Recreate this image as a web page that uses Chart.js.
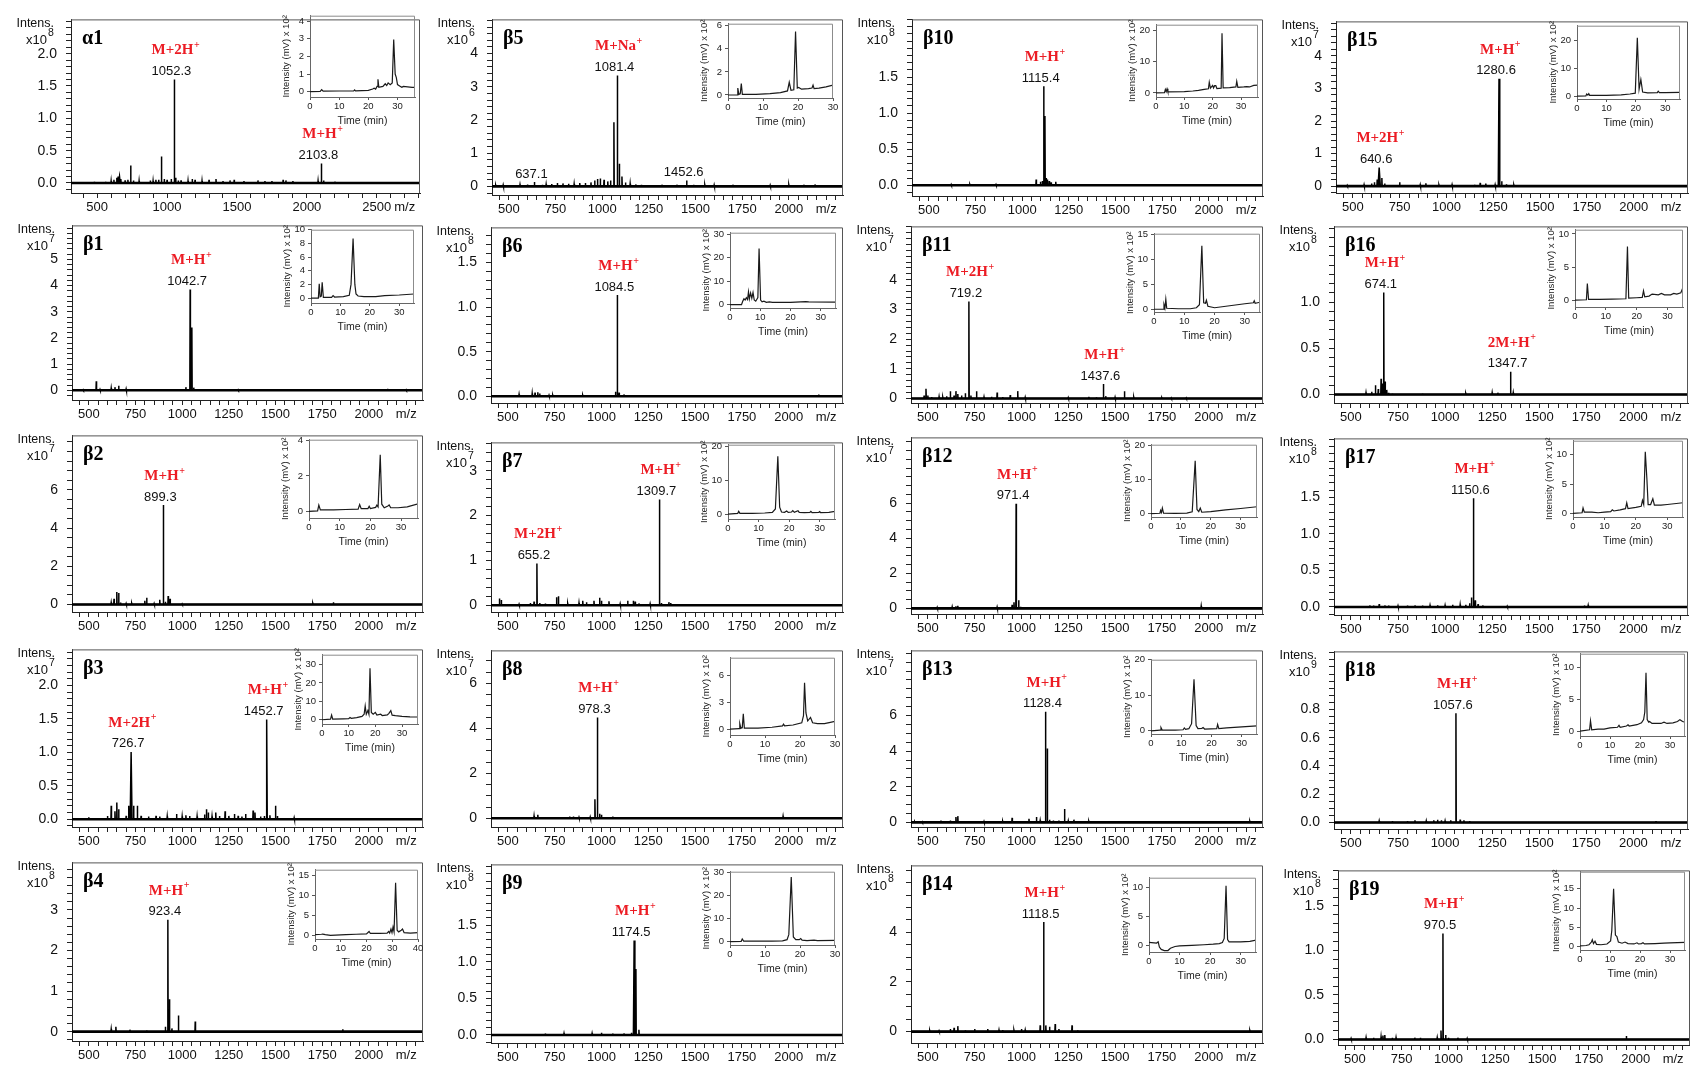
<!DOCTYPE html>
<html>
<head>
<meta charset="utf-8">
<script src="https://cdn.jsdelivr.net/npm/chart.js@4.4.1/dist/chart.umd.min.js"></script>
<style>
  html, body { margin: 0; padding: 0; background: #fff; }
  #fig { position: relative; width: 1690px; height: 1071px; overflow: hidden; background: #fff; }
  #fig canvas { position: absolute; }
</style>
</head>
<body>
<div id="fig"></div>
<script>
// ---------- MALDI spectra: [m/z, intensity (in units of the panel multiplier), half-width] ----------
const peaksA1 = [[480,0.02],[560,0.02],[600,0.03],[620,0.05],[640,0.08],[650,0.1],[660,0.1,5],[670,0.06],[700,0.04],[720,0.05],[740,0.27],[760,0.04],[800,0.03],[880,0.04],[900,0.03],[920,0.05],[940,0.05],[960,0.41],[980,0.06],[1000,0.05],[1030,0.06],[1052.3,1.6],[1062,0.08],[1080,0.04],[1100,0.04],[1150,0.03],[1180,0.06],[1200,0.05],[1250,0.03],[1300,0.05],[1350,0.06],[1400,0.03],[1450,0.04],[1480,0.05],[1550,0.03],[1650,0.04],[1700,0.03],[1750,0.03],[1830,0.05],[1850,0.04],[1900,0.03],[2080,0.03],[2103.8,0.3],[2120,0.04],[2200,0.02]];
const peaksB5 = [[430,0.03],[470,0.04],[520,0.03],[560,0.05],[600,0.06],[637.1,0.13],[680,0.05],[700,0.06],[730,0.07],[760,0.1],[790,0.09],[820,0.08],[850,0.07],[880,0.1],[910,0.1],[940,0.12],[960,0.18],[975,0.22],[990,0.24],[1010,0.2],[1030,0.15],[1045,0.18],[1063,1.93],[1081.4,3.34],[1092,0.68],[1106,0.3],[1125,0.12],[1150,0.08],[1180,0.06],[1210,0.05],[1260,0.04],[1320,0.05],[1360,0.04],[1400,0.05],[1452.6,0.18],[1490,0.05],[1550,0.04],[1600,0.04],[1700,0.05],[1800,0.04],[1900,0.03],[2000,0.04],[2080,0.05],[2140,0.06]];
const peaksB10 = [[620,0.01],[660,0.012],[720,0.01],[830,0.01],[860,0.01],[960,0.02],[1075,0.08],[1098,0.05],[1108,0.06],[1115.4,1.375],[1122,0.96],[1128,0.1],[1135,0.08],[1145,0.06],[1155,0.04],[1180,0.05],[2240,0.02]];
const peaksB15 = [[470,0.02],[520,0.02],[560,0.04],[600,0.08],[615,0.12],[630,0.2],[640.6,0.57,6],[655,0.25],[670,0.08],[690,0.03],[750,0.12],[830,0.02],[860,0.04],[890,0.09],[920,0.03],[960,0.03],[1000,0.03],[1030,0.04],[1150,0.04],[1180,0.1],[1210,0.08],[1260,0.04],[1280.6,3.3,4],[1295,0.15],[1320,0.06],[1360,0.03]];
const peaksB1 = [[470,0.02],[540,0.35],[560,0.03],[600,0.04],[620,0.08],[640,0.12],[660,0.17],[680,0.05],[700,0.05],[760,0.03],[840,0.05],[900,0.03],[980,0.03],[1020,0.12],[1042.7,3.85],[1052,2.4],[1062,0.1],[1120,0.03],[1200,0.02],[1300,0.02],[1500,0.02],[1800,0.02],[2100,0.06],[2200,0.02]];
const peaksB6 = [[560,0.02],[630,0.03],[645,0.04],[660,0.045],[670,0.03],[720,0.01],[740,0.01],[900,0.01],[930,0.01],[1075,0.05],[1084.5,1.136],[1094,0.04],[1120,0.02],[2160,0.02]];
const peaksB11 = [[480,0.1],[490,0.33],[500,0.1],[520,0.05],[560,0.06],[580,0.04],[600,0.08],[620,0.25],[640,0.1],[650,0.25],[660,0.15],[680,0.1],[700,0.18],[719.2,3.27],[730,0.1],[760,0.25],[800,0.05],[840,0.06],[870,0.2],[900,0.05],[940,0.12],[980,0.25],[1020,0.04],[1080,0.03],[1150,0.03],[1250,0.03],[1300,0.03],[1360,0.06],[1400,0.04],[1437.6,0.49],[1450,0.08],[1500,0.04],[1550,0.25],[1600,0.04],[1700,0.03],[1750,0.02],[1800,0.02],[1880,0.02]];
const peaksB16 = [[580,0.02],[610,0.03],[630,0.1],[645,0.06],[660,0.17],[667,0.12],[674.1,1.105],[681,0.14],[690,0.05],[700,0.02],[720,0.01],[880,0.01],[1110,0.01],[1250,0.02],[1280,0.02],[1347.7,0.245],[1362,0.02]];
const peaksB2 = [[620,0.1],[635,0.3],[650,0.65],[660,0.6],[670,0.1],[700,0.05],[730,0.05],[800,0.2],[810,0.35],[850,0.05],[880,0.25],[899.3,5.2],[910,0.15],[925,0.45],[935,0.3],[1000,0.03],[1700,0.05],[1810,0.12]];
const peaksB7 = [[455,0.15],[465,0.12],[560,0.02],[590,0.03],[620,0.05],[640,0.08],[655.2,0.93],[670,0.05],[700,0.04],[760,0.18],[770,0.2],[820,0.03],[880,0.05],[900,0.1],[920,0.07],[960,0.1],[990,0.17],[1000,0.1],[1040,0.09],[1100,0.03],[1140,0.1],[1170,0.1],[1180,0.08],[1200,0.04],[1260,0.03],[1309.7,2.36],[1320,0.05],[1360,0.07],[1370,0.05]];
const peaksB12 = [[550,0.05],[600,0.05],[630,0.08],[650,0.12],[660,0.15],[700,0.05],[750,0.05],[850,0.08],[870,0.07],[950,0.2],[960,0.35],[971.4,5.96],[985,0.46],[995,0.1],[1010,0.05],[1960,0.12]];
const peaksB17 = [[600,0.02],[620,0.02],[650,0.04],[680,0.02],[700,0.02],[750,0.015],[800,0.02],[840,0.02],[880,0.02],[920,0.02],[960,0.025],[1000,0.02],[1040,0.03],[1080,0.03],[1110,0.03],[1130,0.05],[1140,0.13],[1150.6,1.49],[1160,0.09],[1175,0.04],[1200,0.02],[1230,0.01],[1330,0.01],[1740,0.02],[1760,0.02]];
const peaksB3 = [[450,0.02],[500,0.03],[510,0.02],[600,0.05],[620,0.2],[640,0.12],[650,0.25],[660,0.15],[700,0.05],[714,0.2],[726.7,1.007,5],[740,0.2],[760,0.2],[780,0.05],[820,0.04],[860,0.05],[880,0.04],[920,0.04],[970,0.08],[1000,0.04],[1020,0.06],[1040,0.05],[1080,0.04],[1120,0.07],[1130,0.15],[1140,0.1],[1160,0.04],[1180,0.1],[1200,0.05],[1230,0.12],[1250,0.05],[1280,0.08],[1300,0.05],[1320,0.04],[1340,0.08],[1380,0.13],[1390,0.1],[1420,0.04],[1440,0.05],[1452.7,1.49,3],[1470,0.06],[1500,0.2],[1510,0.05],[1560,0.02],[1600,0.02]];
const peaksB8 = [[600,0.03],[620,0.05],[640,0.1],[660,0.15],[700,0.04],[750,0.03],[830,0.08],[850,0.08],[880,0.04],[940,0.05],[965,0.85],[978.3,4.48],[990,0.2],[1000,0.15],[1060,0.08],[1970,0.08]];
const peaksB13 = [[430,0.03],[470,0.03],[520,0.03],[570,0.1],[600,0.05],[620,0.1],[650,0.3],[660,0.35],[700,0.06],[760,0.05],[800,0.05],[850,0.04],[900,0.05],[950,0.25],[1000,0.05],[1040,0.2],[1080,0.3],[1100,0.1],[1128.4,6.21],[1138,4.15],[1150,0.15],[1170,0.1],[1200,0.1],[1230,0.75],[1250,0.08],[1280,0.15],[1300,0.05],[1360,0.05],[2220,0.05]];
const peaksB18 = [[650,0.01],[720,0.01],[800,0.01],[840,0.015],[900,0.01],[940,0.015],[960,0.02],[980,0.015],[1000,0.01],[1030,0.015],[1057.6,0.772],[1080,0.02],[1100,0.015],[1130,0.01],[2120,0.01]];
const peaksB4 = [[620,0.06],[645,0.12],[720,0.05],[810,0.03],[910,0.12],[923.4,2.76],[932,0.8],[945,0.08],[980,0.4],[1070,0.25],[1860,0.06]];
const peaksB9 = [[700,0.02],[800,0.02],[950,0.02],[1000,0.03],[1060,0.02],[1120,0.02],[1160,0.03],[1174.5,1.29,4],[1184,0.9],[1200,0.07]];
const peaksB14 = [[510,0.04],[560,0.03],[620,0.1],[640,0.15],[660,0.22],[700,0.05],[750,0.1],[820,0.1],[880,0.06],[900,0.06],[960,0.05],[1000,0.1],[1020,0.06],[1100,0.25],[1118.5,4.42],[1130,0.25],[1150,0.2],[1180,0.3],[1200,0.1],[1270,0.25],[1300,0.05],[2220,0.04]];
const peaksB19 = [[480,0.01],[560,0.02],[600,0.02],[640,0.03],[650,0.045],[660,0.05],[700,0.02],[720,0.02],[820,0.02],[850,0.02],[940,0.02],[960,0.1],[970.5,1.19],[985,0.05],[1000,0.02],[1050,0.02],[1100,0.01],[1950,0.04]];

// ---------- assigned ions: [m/z, ion species] (null = value only) ----------
const ionsA1 = [[1052.3,'M+2H'],[2103.8,'M+H']];
const ionsB5 = [[1081.4,'M+Na'],[637.1,null],[1452.6,null]];
const ionsB10 = [[1115.4,'M+H']];
const ionsB15 = [[1280.6,'M+H'],[640.6,'M+2H']];
const ionsB1 = [[1042.7,'M+H']];
const ionsB6 = [[1084.5,'M+H']];
const ionsB11 = [[719.2,'M+2H'],[1437.6,'M+H']];
const ionsB16 = [[674.1,'M+H'],[1347.7,'2M+H']];
const ionsB2 = [[899.3,'M+H']];
const ionsB7 = [[1309.7,'M+H'],[655.2,'M+2H']];
const ionsB12 = [[971.4,'M+H']];
const ionsB17 = [[1150.6,'M+H']];
const ionsB3 = [[726.7,'M+2H'],[1452.7,'M+H']];
const ionsB8 = [[978.3,'M+H']];
const ionsB13 = [[1128.4,'M+H']];
const ionsB18 = [[1057.6,'M+H']];
const ionsB4 = [[923.4,'M+H']];
const ionsB9 = [[1174.5,'M+H']];
const ionsB14 = [[1118.5,'M+H']];
const ionsB19 = [[970.5,'M+H']];

// ---------- HPLC chromatograms: [time (min), intensity (mV x 10^2)] ----------
const chromA1 = [[0,0],[3.5,0.02],[4,0.12],[4.5,0.03],[10,0.04],[15,0.05],[15.3,0.1],[15.6,0.05],[20,0.08],[21.5,0.15],[22,0.2],[22.5,0.15],[23,0.3],[23.3,0.7],[23.6,0.25],[25,0.3],[25.8,0.45],[26.3,0.35],[26.8,0.5],[27.5,0.4],[28.2,0.5],[28.7,2.95],[29.2,1.0],[29.6,0.8],[30,0.4],[31,0.3],[31.5,0.25],[32,0.3],[35,0.25],[36,0.25]];
const chromB5 = [[0,0],[2.6,0],[2.8,0.6],[3.1,0.05],[3.5,0.1],[3.8,1.0],[4.1,0.05],[8,0.05],[12,0.12],[15,0.2],[17,0.35],[17.5,1.1],[18,0.4],[18.8,0.45],[19.3,5.5],[19.8,0.6],[20.2,0.65],[21,0.5],[23,0.55],[24,0.6],[24.3,0.85],[24.6,0.55],[26,0.6],[28,0.7],[30,0.85]];
const chromB10 = [[0,0],[3,0.1],[3.3,1.1],[3.6,0.4],[3.9,1.3],[4.2,0.3],[10,0.4],[13,0.6],[15,0.8],[17,1.1],[18.5,1.3],[18.8,3.4],[19.2,1.5],[20,2.4],[20.3,1.6],[20.7,2.3],[21.1,2.3],[21.5,1.4],[23,1.5],[23.3,19],[23.7,1.6],[26,1.7],[28.2,1.9],[28.5,3.7],[28.9,1.8],[31,1.9],[32,2.0],[33,1.9],[34.5,2.4],[36,2.5]];
const chromB15 = [[0,0],[3,0.1],[3.3,0.8],[3.7,0.4],[4,0.9],[4.3,0.3],[10,0.3],[15,0.5],[18,0.8],[19.8,1.1],[20.5,21],[21.1,2.5],[21.7,6],[22.3,1.5],[24,1.2],[27.3,1.3],[27.6,1.8],[28,1.3],[30,1.3],[35,1.4]];
const chromB1 = [[0,0],[2.5,0],[2.8,2.1],[3.1,0.2],[3.5,0.3],[3.8,2.3],[4.2,0.1],[7,0.1],[7.5,0.35],[8,0.15],[11,0.2],[13,0.4],[13.6,2],[14.3,8.7],[14.9,2],[15.3,0.6],[16,0.3],[18,0.2],[22,0.2],[25,0.35],[30,0.45],[35,0.6]];
const chromB6 = [[0,0],[3.8,0],[4.2,1.5],[4.6,2.5],[5,2],[5.4,3],[5.8,2.2],[6.1,5.5],[6.4,2.5],[6.8,5],[7.2,2.8],[7.6,5.2],[8,2],[8.5,1.5],[9.2,3],[9.6,24],[10.1,2],[10.6,1.2],[11.2,1.5],[12,1],[13,1.2],[14,1],[20,1],[25,1.3],[26,1.2],[35,1.1]];
const chromB11 = [[0,0],[3,0],[3.3,0.9],[3.6,0.2],[3.9,2],[4.2,0.2],[8,0.1],[12,0.1],[14,0.3],[15,0.9],[15.8,12.7],[16.4,1.3],[17,1.2],[17.3,1.8],[17.8,0.6],[20,0.3],[25,0.7],[30,1.1],[32.8,1.3],[33.1,1.7],[33.4,1.2],[35,1.4]];
const chromB16 = [[0,0],[3.7,0.05],[4,2.5],[4.4,0.1],[8,0.1],[12,0.15],[16.5,0.2],[17,8.1],[17.4,0.3],[20,0.35],[21.8,0.4],[22.2,1.4],[22.6,0.5],[24,0.6],[25,0.9],[27,0.8],[28,1.0],[29,0.8],[31,0.8],[32,1.0],[33,0.9],[34.3,1.1],[35,1.9]];
const chromB2 = [[0,0],[2.8,0.02],[3.2,0.35],[3.7,0.08],[8,0.08],[12,0.1],[16,0.12],[16.5,0.38],[17,0.15],[19.2,0.15],[19.6,0.28],[20,0.15],[21.7,0.22],[22.1,0.35],[22.5,0.25],[23.2,3.2],[23.7,0.4],[24.5,0.2],[25.7,0.3],[26.1,0.36],[26.6,0.2],[29,0.2],[32,0.25],[35.5,0.42]];
const chromB7 = [[0,0],[3.2,0.2],[3.5,0.8],[3.9,0.2],[8,0.2],[12,0.3],[14.5,0.5],[15.5,1.5],[16.3,17],[16.9,2],[17.5,0.6],[18.5,0.5],[19.2,0.9],[19.7,0.5],[20.8,0.6],[21.2,1.0],[21.7,0.5],[22.9,1.0],[23.3,0.5],[25,0.4],[26.8,0.5],[27.1,0.8],[27.5,0.4],[29.7,0.5],[30,0.7],[30.3,0.4],[33,0.5],[35,0.8]];
const chromB12 = [[0,0],[3,0.1],[3.2,0.9],[3.5,0.3],[3.8,1.6],[4.2,0.1],[8,0.05],[12,0.15],[13.8,0.5],[14.8,15.5],[15.4,1.2],[16,0.6],[16.5,1.6],[17,0.4],[20,0.6],[25,1.1],[30,1.5],[35.5,2.0]];
const chromB17 = [[0,0],[2.9,0.1],[3.2,0.9],[3.6,0.2],[6,0.2],[8,0.1],[10,0.2],[12,0.3],[12.5,0.6],[13,0.4],[15,0.6],[16.7,0.8],[17.1,1.8],[17.5,0.8],[20,1.0],[21.7,1.2],[22.1,2.2],[22.5,1.5],[23,10.5],[23.5,6],[23.9,1.5],[24.7,1.5],[25.4,2.5],[25.9,1.4],[28,1.4],[30,1.5],[35,1.8]];
const chromB3 = [[0,0],[3.2,0.3],[3.6,2.5],[4,0.4],[8,0.5],[10,0.6],[10.5,1.2],[11,0.8],[13,1.2],[15,1.8],[15.8,3],[16.2,7.5],[16.6,3],[17.2,5],[17.6,3],[18,28],[18.5,4],[19.2,3],[20,4],[20.6,2.5],[22,3],[22.6,2.3],[24.5,2.6],[25.1,3.5],[25.8,5],[26.3,2.5],[27.5,2.2],[30,1.8],[33,1.6],[36,1.5]];
const chromB8 = [[0,0],[2.6,0.05],[2.8,0.6],[3.1,0.1],[3.5,0.15],[3.8,1.7],[4.1,0.1],[8,0.1],[12,0.2],[15,0.35],[15.3,0.55],[15.6,0.35],[18,0.45],[20.5,0.7],[21,1.5],[21.3,5.2],[21.7,1.8],[22.2,0.9],[23,1.3],[23.6,0.7],[25,0.6],[27,0.6],[30,0.85]];
const chromB13 = [[0,0],[3,0.2],[3.3,0.9],[3.7,0.2],[8,0.2],[10.6,0.3],[11,0.8],[11.4,0.4],[12.5,0.6],[13.4,2],[14.2,14.5],[14.9,1.5],[15.5,0.6],[16.8,0.7],[17.2,0.9],[17.7,0.5],[21.7,0.6],[22,1.8],[22.4,0.6],[25,0.8],[30,1.1],[35,1.4]];
const chromB18 = [[0,0],[3.2,0.2],[3.5,1.6],[3.9,0.2],[6,0.3],[8,0.3],[10,0.5],[12.5,0.6],[13,0.9],[13.4,0.6],[15.5,0.8],[16,1.0],[16.4,0.8],[19,1.0],[20.5,1.3],[21.2,1.8],[21.6,3],[22,9.2],[22.4,1.8],[22.9,1.4],[23.2,1.5],[24,1.2],[27,1.2],[28,1.4],[29,1.2],[31,1.3],[32.5,1.5],[33.3,1.8],[34.2,1.5],[35,1.4]];
const chromB4 = [[0,0.1],[2.5,0.2],[3,0.25],[4,0.1],[6,-0.1],[8,0],[12,0.1],[16,0.2],[20,0.3],[21,0.9],[21.5,0.4],[25,0.4],[28,0.5],[28.6,0.9],[29,0.5],[29.5,1.5],[29.9,0.6],[30.3,2],[30.7,0.8],[31.3,13.2],[31.9,1.2],[32.5,0.8],[33.5,1.2],[34,1.5],[34.6,0.6],[37,0.5],[40,0.6]];
const chromB9 = [[0,0],[3.2,0.1],[3.5,1.1],[3.9,0.2],[8,0.2],[12,0.2],[15,0.3],[16.3,0.8],[16.8,3],[17.5,28],[18.1,2],[18.8,0.8],[19.8,0.8],[20.2,1.3],[20.6,0.6],[22,0.4],[24,0.6],[25,0.4],[30,0.5]];
const chromB14 = [[0,0.5],[2.5,0.4],[3,0.6],[3.4,-0.3],[4,-0.7],[5,-0.9],[6.2,-0.9],[7,-0.5],[8.5,-0.2],[10,-0.1],[14,0],[18,0.1],[21,0.2],[23,0.3],[24,0.5],[24.6,1.2],[25.2,10.3],[25.7,1],[26.2,0.6],[30,0.6],[33,0.7],[35,0.9]];
const chromB19 = [[0,0.2],[2,0.3],[3,0.5],[3.8,1.2],[4.1,1.8],[4.5,0.8],[5,1.4],[5.5,0.6],[7,0.5],[9,0.7],[10.2,1.5],[10.6,4.2],[11.2,15],[11.8,3],[12.3,2.6],[12.8,1.2],[14,0.9],[15,1.2],[16,0.8],[18,0.7],[19,1.0],[19.5,0.7],[20.5,0.8],[21,1.0],[21.5,0.7],[25,0.8],[28,0.9],[30,1.0],[35,1.1]];

// ---------- axis tick labels ----------
const mzLabelsA = [500, 1000, 1500, 2000, 2500];
const mzLabelsB = [500, 750, 1000, 1250, 1500, 1750, 2000];
const timeLabels30 = [0, 10, 20, 30];
const timeLabels40 = [0, 10, 20, 30, 40];

// ---------- panel table (row by row) ----------
const BX = [410, 2290];
const PANELS = [
  {name:'α1', exp:8, x:[313,2809], xStep:100, xLabels:mzLabelsA, mzAt:2700, y:[-0.155,2.53], yStep:0.1, yLabels:[0,0.5,1,1.5,2], dec:1, peaks:peaksA1, ions:ionsA1, chrom:chromA1, cx:36, cy:[-0.3,4.3], cyLabels:[0,1,2,3,4], cxLabels:timeLabels30},
  {name:'β5', exp:6, x:BX, xStep:50, xLabels:mzLabelsB, mzAt:2200, y:[-0.26,5.03], yStep:0.2, yLabels:[0,1,2,3,4], dec:0, peaks:peaksB5, ions:ionsB5, chrom:chromB5, cx:30, cy:[-0.26,6.17], cyLabels:[0,2,4,6], cxLabels:timeLabels30},
  {name:'β10', exp:8, x:BX, xStep:50, xLabels:mzLabelsB, mzAt:2200, y:[-0.148,2.30], yStep:0.1, yLabels:[0,0.5,1,1.5], dec:1, peaks:peaksB10, ions:ionsB10, chrom:chromB10, cx:36, cy:[-1.3,21.7], cyLabels:[0,10,20], cxLabels:timeLabels30},
  {name:'β15', exp:7, x:BX, xStep:50, xLabels:mzLabelsB, mzAt:2200, y:[-0.21,5.06], yStep:0.2, yLabels:[0,1,2,3,4], dec:0, peaks:peaksB15, ions:ionsB15, chrom:chromB15, cx:35, cy:[-1,25.3], cyLabels:[0,10,20], cxLabels:timeLabels30},

  {name:'β1', exp:7, x:BX, xStep:50, xLabels:mzLabelsB, mzAt:2200, y:[-0.37,6.3], yStep:0.2, yLabels:[0,1,2,3,4,5], dec:0, peaks:peaksB1, ions:ionsB1, chrom:chromB1, cx:35, cy:[-0.72,10], cyLabels:[0,2,4,6,8,10], cxLabels:timeLabels30},
  {name:'β6', exp:8, x:BX, xStep:50, xLabels:mzLabelsB, mzAt:2200, y:[-0.076,1.895], yStep:0.1, yLabels:[0,0.5,1,1.5], dec:1, peaks:peaksB6, ions:ionsB6, chrom:chromB6, cx:35, cy:[-1.4,30.7], cyLabels:[0,10,20,30], cxLabels:timeLabels30},
  {name:'β11', exp:7, x:BX, xStep:50, xLabels:mzLabelsB, mzAt:2200, y:[-0.15,5.8], yStep:0.2, yLabels:[0,1,2,3,4], dec:0, peaks:peaksB11, ions:ionsB11, chrom:chromB11, cx:35, cy:[-0.55,15.1], cyLabels:[0,5,10,15], cxLabels:timeLabels30},
  {name:'β16', exp:8, x:BX, xStep:50, xLabels:mzLabelsB, mzAt:2200, y:[-0.092,1.82], yStep:0.1, yLabels:[0,0.5,1], dec:1, peaks:peaksB16, ions:ionsB16, chrom:chromB16, cx:35, cy:[-1.05,10.65], cyLabels:[0,5,10], cxLabels:timeLabels30},

  {name:'β2', exp:7, x:BX, xStep:50, xLabels:mzLabelsB, mzAt:2200, y:[-0.39,8.84], yStep:0.5, yLabels:[0,2,4,6], dec:0, peaks:peaksB2, ions:ionsB2, chrom:chromB2, cx:35.5, cy:[-0.38,4.05], cyLabels:[0,2,4], cxLabels:timeLabels30},
  {name:'β7', exp:7, x:BX, xStep:50, xLabels:mzLabelsB, mzAt:2200, y:[-0.15,3.63], yStep:0.2, yLabels:[0,1,2,3], dec:0, peaks:peaksB7, ions:ionsB7, chrom:chromB7, cx:35, cy:[-1.46,20.4], cyLabels:[0,10,20], cxLabels:timeLabels30},
  {name:'β12', exp:7, x:BX, xStep:50, xLabels:mzLabelsB, mzAt:2200, y:[-0.32,9.75], yStep:0.5, yLabels:[0,2,4,6], dec:0, peaks:peaksB12, ions:ionsB12, chrom:chromB12, cx:35.5, cy:[-1,20.2], cyLabels:[0,10,20], cxLabels:timeLabels30},
  {name:'β17', exp:8, x:BX, xStep:50, xLabels:mzLabelsB, mzAt:2200, y:[-0.11,2.31], yStep:0.1, yLabels:[0,0.5,1,1.5], dec:1, peaks:peaksB17, ions:ionsB17, chrom:chromB17, cx:35, cy:[-0.63,12.4], cyLabels:[0,5,10], cxLabels:timeLabels30},

  {name:'β3', exp:7, x:BX, xStep:50, xLabels:mzLabelsB, mzAt:2200, y:[-0.116,2.54], yStep:0.1, yLabels:[0,0.5,1,1.5,2], dec:1, peaks:peaksB3, ions:ionsB3, chrom:chromB3, cx:36, cy:[-2.3,35.3], cyLabels:[0,10,20,30], cxLabels:timeLabels30},
  {name:'β8', exp:7, x:BX, xStep:50, xLabels:mzLabelsB, mzAt:2200, y:[-0.39,7.47], yStep:0.5, yLabels:[0,2,4,6], dec:0, peaks:peaksB8, ions:ionsB8, chrom:chromB8, cx:30, cy:[-0.67,8], cyLabels:[0,3,6], cxLabels:timeLabels30},
  {name:'β13', exp:7, x:BX, xStep:50, xLabels:mzLabelsB, mzAt:2200, y:[-0.26,9.66], yStep:0.5, yLabels:[0,2,4,6], dec:0, peaks:peaksB13, ions:ionsB13, chrom:chromB13, cx:35, cy:[-0.9,20], cyLabels:[0,10,20], cxLabels:timeLabels30},
  {name:'β18', exp:9, x:BX, xStep:50, xLabels:mzLabelsB, mzAt:2200, y:[-0.046,1.21], yStep:0.05, yLabels:[0,0.2,0.4,0.6,0.8], dec:1, peaks:peaksB18, ions:ionsB18, chrom:chromB18, cx:35, cy:[-0.78,12.2], cyLabels:[0,5,10], cxLabels:timeLabels30},

  {name:'β4', exp:8, x:BX, xStep:50, xLabels:mzLabelsB, mzAt:2200, y:[-0.23,4.17], yStep:0.2, yLabels:[0,1,2,3], dec:0, peaks:peaksB4, ions:ionsB4, chrom:chromB4, cx:40, cy:[-1,16.5], cyLabels:[0,5,10,15], cxLabels:timeLabels40},
  {name:'β9', exp:8, x:BX, xStep:50, xLabels:mzLabelsB, mzAt:2200, y:[-0.11,2.33], yStep:0.1, yLabels:[0,0.5,1,1.5], dec:1, peaks:peaksB9, ions:ionsB9, chrom:chromB9, cx:30, cy:[-1.5,30.3], cyLabels:[0,10,20,30], cxLabels:timeLabels30},
  {name:'β14', exp:8, x:BX, xStep:50, xLabels:mzLabelsB, mzAt:2200, y:[-0.46,6.7], yStep:0.5, yLabels:[0,2,4], dec:0, peaks:peaksB14, ions:ionsB14, chrom:chromB14, cx:35, cy:[-1.15,11.7], cyLabels:[0,5,10], cxLabels:timeLabels30},
  {name:'β19', exp:8, x:BX, xStep:50, xLabels:mzLabelsB, mzAt:2200, y:[-0.062,1.9], yStep:0.1, yLabels:[0,0.5,1,1.5], dec:1, peaks:peaksB19, ions:ionsB19, chrom:chromB19, cx:35, cy:[-0.86,19.4], cyLabels:[0,5,10,15], cxLabels:timeLabels30}
];

// ---------- page layout: plot frames [left, top, right, bottom] ----------
const FRAMES = [
  [71,14,420,193],[492,14,843,195],[912,14,1263,196],[1336,16,1688,193],
  [72,220,423,400],[491,222,843,403],[911,221,1263,403],[1334,221,1688,403],
  [72,430,423,612],[491,437,843,612],[911,432,1263,614],[1334,433,1688,615],
  [72,644,423,827],[491,645,843,827],[911,645,1263,827],[1334,646,1688,829],
  [72,857,423,1041],[491,859,843,1043],[911,860,1263,1043],[1338,865,1690,1045]
];
const INSETS = [
  [310,15,415,97],[728,23,833,98],[1156,24,1258,97],[1577,25,1680,99],
  [311,229,414,303],[730,232,836,308],[1154,233,1260,312],[1575,229,1683,307],
  [309,439,418,518],[728,444,835,519],[1151,444,1257,517],[1573,440,1683,517],
  [322,654,418,724],[730,657,835,735],[1151,659,1257,734],[1580,653,1685,736],
  [315,869,418,939],[730,871,835,945],[1149,877,1256,952],[1580,871,1685,950]
];

// ---------- drawing helpers ----------
const SANS = '"Liberation Sans", Arial, Helvetica, sans-serif';
const SERIF = '"Liberation Serif", "Times New Roman", Times, serif';
const RED = '#ec1c24';
const fig = document.getElementById('fig');

function makeCanvas(x, y, w, h) {
  const c = document.createElement('canvas');
  c.width = w; c.height = h;
  c.style.left = x + 'px'; c.style.top = y + 'px';
  c.style.width = w + 'px'; c.style.height = h + 'px';
  fig.appendChild(c);
  return c;
}

function stepTicks(min, max, step) {
  const out = [];
  const k0 = Math.ceil(min / step - 1e-9), k1 = Math.floor(max / step + 1e-9);
  for (let k = k0; k <= k1; k++) out.push(+(k * step).toFixed(6));
  return out;
}
const hasVal = (arr, v) => arr.some(a => Math.abs(a - v) < 1e-6);

// closes the box on the top and right sides of the plotting area
const framePlugin = {
  id: 'frame',
  afterDraw(chart, args, opts) {
    const { ctx, chartArea: a } = chart;
    ctx.save();
    ctx.strokeStyle = opts.color || '#444';
    ctx.lineWidth = 1;
    ctx.beginPath();
    ctx.moveTo(a.left, a.top + 0.5);
    ctx.lineTo(a.right - 0.5, a.top + 0.5);
    ctx.lineTo(a.right - 0.5, a.bottom);
    ctx.stroke();
    ctx.restore();
  }
};

function drawIon(ctx, text, cx, cy) {
  const base = 'bold 15px ' + SERIF, sup = 'bold 10px ' + SERIF;
  ctx.font = base; const w1 = ctx.measureText(text).width;
  ctx.font = sup; const w2 = ctx.measureText('+').width;
  const x0 = cx - (w1 + w2) / 2;
  ctx.fillStyle = RED;
  ctx.textAlign = 'left'; ctx.textBaseline = 'middle';
  ctx.font = base; ctx.fillText(text, x0, cy);
  ctx.font = sup; ctx.fillText('+', x0 + w1 + 0.5, cy - 5);
}

function spectrum(p, box) {
  const [l, t, r, b] = box;
  const padL = 72, padT = 12, padR = 8, padB = 30;
  const cv = makeCanvas(l - padL, t - padT, r - l + padL + padR, b - t + padT + padB);
  const sorted = p.peaks.slice().sort((u, v) => u[0] - v[0]);
  const sticks = [{ x: p.x[0], y: 0 }];
  sorted.forEach(([mz, h, hw]) => {
    const w = hw || 1.5;
    sticks.push({ x: mz - w, y: 0 }, { x: mz, y: h }, { x: mz + w, y: 0 });
  });
  sticks.push({ x: p.x[1], y: 0 });

  const labels = {
    id: 'labels',
    afterDatasetsDraw(chart) {
      const { ctx, scales } = chart;
      ctx.save();
      p.ions.forEach(([mz, ion]) => {
        const pk = p.peaks.find(q => Math.abs(q[0] - mz) < 1e-6);
        const px = scales.x.getPixelForValue(mz);
        const py = scales.y.getPixelForValue(pk[1]);
        ctx.fillStyle = '#111';
        ctx.font = '13px ' + SANS;
        ctx.textAlign = 'center'; ctx.textBaseline = 'middle';
        ctx.fillText(mz.toFixed(1), px - 3, py - 8);
        if (ion) drawIon(ctx, ion, px + 1, py - 29);
      });
      ctx.restore();
    },
    afterDraw(chart) {
      const { ctx, chartArea: a } = chart;
      ctx.save();
      ctx.fillStyle = '#111';
      ctx.textBaseline = 'middle';
      ctx.textAlign = 'right';
      ctx.font = '12.5px ' + SANS;
      ctx.fillText('Intens.', a.left - 17, a.top + 4);
      ctx.font = '13px ' + SANS;
      ctx.fillText('x10', a.left - 24, a.top + 21);
      ctx.textAlign = 'left';
      ctx.font = '10.5px ' + SANS;
      ctx.fillText(String(p.exp), a.left - 23, a.top + 14);
      ctx.font = 'bold 20px ' + SERIF;
      ctx.fillStyle = '#000';
      ctx.fillText(p.name, a.left + 11, a.top + 19);
      ctx.restore();
    }
  };

  new Chart(cv, {
    type: 'line',
    data: {
      datasets: [
        { data: sticks, borderColor: '#000', backgroundColor: '#000', borderWidth: 1.5, pointRadius: 0, fill: 'origin', tension: 0 },
        { data: [{ x: p.x[0], y: 0 }, { x: p.x[1], y: 0 }], borderColor: '#000', borderWidth: 2.6, pointRadius: 0, fill: false }
      ]
    },
    options: {
      responsive: false, animation: false, devicePixelRatio: 1,
      layout: { padding: { top: padT, right: padR, left: 0, bottom: 0 } },
      plugins: { legend: { display: false }, tooltip: { enabled: false }, frame: { color: '#555' } },
      scales: {
        x: {
          type: 'linear', min: p.x[0], max: p.x[1],
          afterFit: s => { s.height = padB; },
          afterBuildTicks: s => { s.ticks = stepTicks(p.x[0], p.x[1], p.xStep).map(v => ({ value: v })); },
          ticks: {
            autoSkip: false, maxRotation: 0, minRotation: 0, padding: 2, color: '#111',
            font: { family: SANS, size: 13 },
            callback: v => hasVal(p.xLabels, v) ? String(v) : (Math.abs(v - p.mzAt) < 1e-6 ? 'm/z' : '')
          },
          grid: { drawOnChartArea: false, drawTicks: true, tickLength: 5, tickColor: '#222' },
          border: { display: true, color: '#222', width: 1 }
        },
        y: {
          type: 'linear', min: p.y[0], max: p.y[1],
          afterFit: s => { s.width = padL; },
          afterBuildTicks: s => { s.ticks = stepTicks(p.y[0], p.y[1], p.yStep).map(v => ({ value: v })); },
          ticks: {
            autoSkip: false, padding: 9, color: '#111',
            font: { family: SANS, size: 14 },
            callback: v => hasVal(p.yLabels, v) ? v.toFixed(p.dec) : ''
          },
          grid: { drawOnChartArea: false, drawTicks: true, tickLength: 5, tickColor: '#222' },
          border: { display: true, color: '#222', width: 1 }
        }
      }
    },
    plugins: [framePlugin, labels]
  });
}

function chromatogram(p, box) {
  const [l, t, r, b] = box;
  const padL = 29, padT = 8, padR = 10, padB = 30;
  const cv = makeCanvas(l - padL, t - padT, r - l + padL + padR, b - t + padT + padB);
  const tickFont = { family: SANS, size: 9.5 };
  new Chart(cv, {
    type: 'line',
    data: {
      datasets: [{
        data: p.chrom.map(([x, y]) => ({ x, y })),
        borderColor: '#1a1a1a', borderWidth: 1.2, pointRadius: 0, fill: false, tension: 0
      }]
    },
    options: {
      responsive: false, animation: false, devicePixelRatio: 1,
      layout: { padding: { top: padT, right: padR, left: 0, bottom: 0 } },
      plugins: { legend: { display: false }, tooltip: { enabled: false }, frame: { color: '#8c8c8c' } },
      scales: {
        x: {
          type: 'linear', min: 0, max: p.cx,
          afterFit: s => { s.height = padB; },
          afterBuildTicks: s => { s.ticks = p.cxLabels.map(v => ({ value: v })); },
          ticks: { autoSkip: false, maxRotation: 0, padding: 1, color: '#222', font: tickFont },
          grid: { drawOnChartArea: false, tickLength: 3, tickColor: '#555' },
          border: { display: true, color: '#666', width: 1 },
          title: { display: true, text: 'Time (min)', padding: 0, color: '#222', font: { family: SANS, size: 10.5 } }
        },
        y: {
          type: 'linear', min: p.cy[0], max: p.cy[1],
          afterFit: s => { s.width = padL; },
          afterBuildTicks: s => { s.ticks = p.cyLabels.map(v => ({ value: v })); },
          ticks: { autoSkip: false, padding: 3, color: '#222', font: tickFont },
          grid: { drawOnChartArea: false, tickLength: 3, tickColor: '#555' },
          border: { display: true, color: '#666', width: 1 },
          title: { display: true, text: 'Intensity (mV) x 10²', padding: 0, color: '#222', font: { family: SANS, size: 9.5 } }
        }
      }
    },
    plugins: [framePlugin]
  });
}

PANELS.forEach((p, i) => spectrum(p, FRAMES[i]));
PANELS.forEach((p, i) => chromatogram(p, INSETS[i]));
</script>
</body>
</html>
